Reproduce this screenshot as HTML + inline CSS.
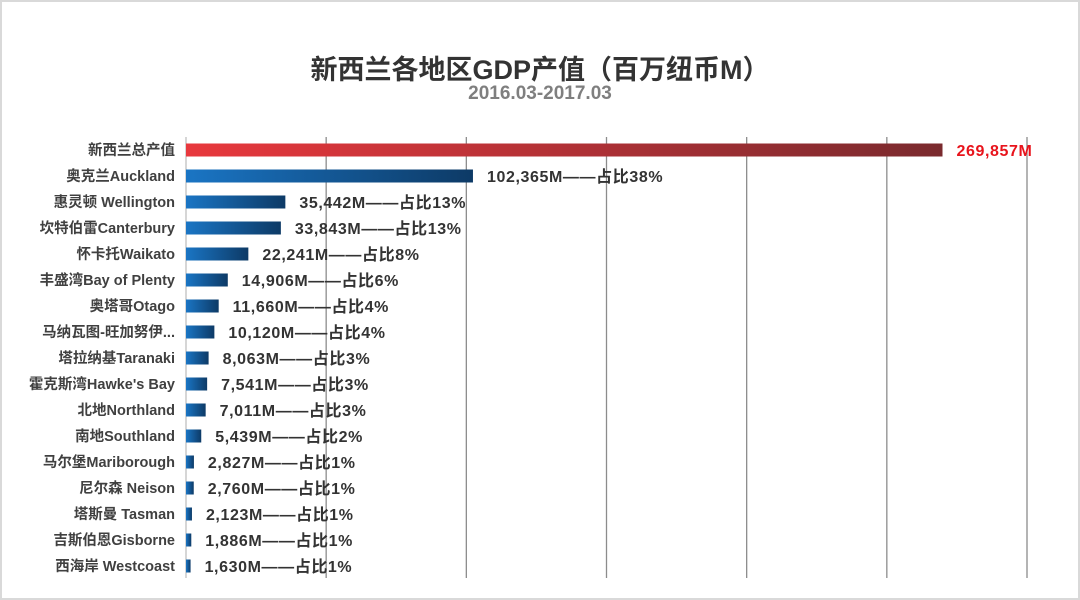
<!DOCTYPE html>
<html><head><meta charset="utf-8"><style>
html,body{margin:0;padding:0;background:#fff;}
body{width:1080px;height:600px;position:relative;overflow:hidden;font-family:"Liberation Sans","Noto Sans CJK SC",sans-serif;}
.frame{position:absolute;left:0;top:0;width:1076px;height:596px;border:2px solid #d9d9d9;}
#title{position:absolute;left:0;width:1080px;top:48px;text-align:center;font-size:27px;font-weight:bold;color:#333;}
#sub{position:absolute;left:0;width:1080px;top:83px;text-align:center;font-size:19px;font-weight:bold;color:#7f7f7f;}
</style></head><body>
<div class="frame"></div>
<div id="title">新西兰各地区GDP产值（百万纽币M）</div>
<div id="sub">2016.03-2017.03</div>
<svg id="chart" width="1080" height="600" style="position:absolute;left:0;top:0">
<defs>
<linearGradient id="gr" x1="0" x2="1"><stop offset="0" stop-color="#e8383d"/><stop offset="1" stop-color="#7a2a2e"/></linearGradient>
<linearGradient id="gb" x1="0" x2="1"><stop offset="0" stop-color="#1a75c4"/><stop offset="1" stop-color="#0d3a66"/></linearGradient>
</defs>
</svg>
<script>
const categories=["新西兰总产值","奥克兰Auckland","惠灵顿 Wellington","坎特伯雷Canterbury","怀卡托Waikato","丰盛湾Bay of Plenty","奥塔哥Otago","马纳瓦图-旺加努伊...","塔拉纳基Taranaki","霍克斯湾Hawke's Bay","北地Northland","南地Southland","马尔堡Mariborough","尼尔森 Neison","塔斯曼 Tasman","吉斯伯恩Gisborne","西海岸 Westcoast"];
const values=[269857,102365,35442,33843,22241,14906,11660,10120,8063,7541,7011,5439,2827,2760,2123,1886,1630];
const shares=[null,38,13,13,8,6,4,4,3,3,3,2,1,1,1,1,1];
const ticks=[0,50000,100000,150000,200000,250000,300000];
const NS="http://www.w3.org/2000/svg";
const svg=document.getElementById('chart');
const x0=186,x1=1027,xmax=300000,yTop=150,step=26,barH=13;
function xs(v){return x0+(v/xmax)*(x1-x0);}
function ys(i){return yTop+i*step;}
function mk(t,a){const e=document.createElementNS(NS,t);for(const k in a)e.setAttribute(k,a[k]);svg.appendChild(e);return e;}
ticks.forEach((t,i)=>{
  const l=mk('line',{x1:xs(t),x2:xs(t),y1:137,y2:578,stroke:i===0?'#bfbfbf':'#8c8c8c','stroke-width':1.3});
  
  
});
categories.forEach((c,i)=>{
  const y=ys(i);
  const lab=mk('text',{x:175,y:y+5,'text-anchor':'end','font-size':14.5,'font-weight':'bold',fill:'#404040'});
  lab.textContent=c;
  
  
  const b=mk('rect',{x:x0,y:y-barH/2,width:Math.max(xs(values[i])-x0,3),height:barH,fill:i===0?'url(#gr)':'url(#gb)'});
  
  
  const v=mk('text',{x:xs(values[i])+14,y:y+6,'font-size':16,'font-weight':'bold','letter-spacing':0.6,fill:i===0?'#e8141c':'#333'});
  v.textContent=values[i].toLocaleString('en-US')+'M'+(shares[i]!==null?'——占比'+shares[i]+'%':'');
  
  
});
</script>
</body></html>
